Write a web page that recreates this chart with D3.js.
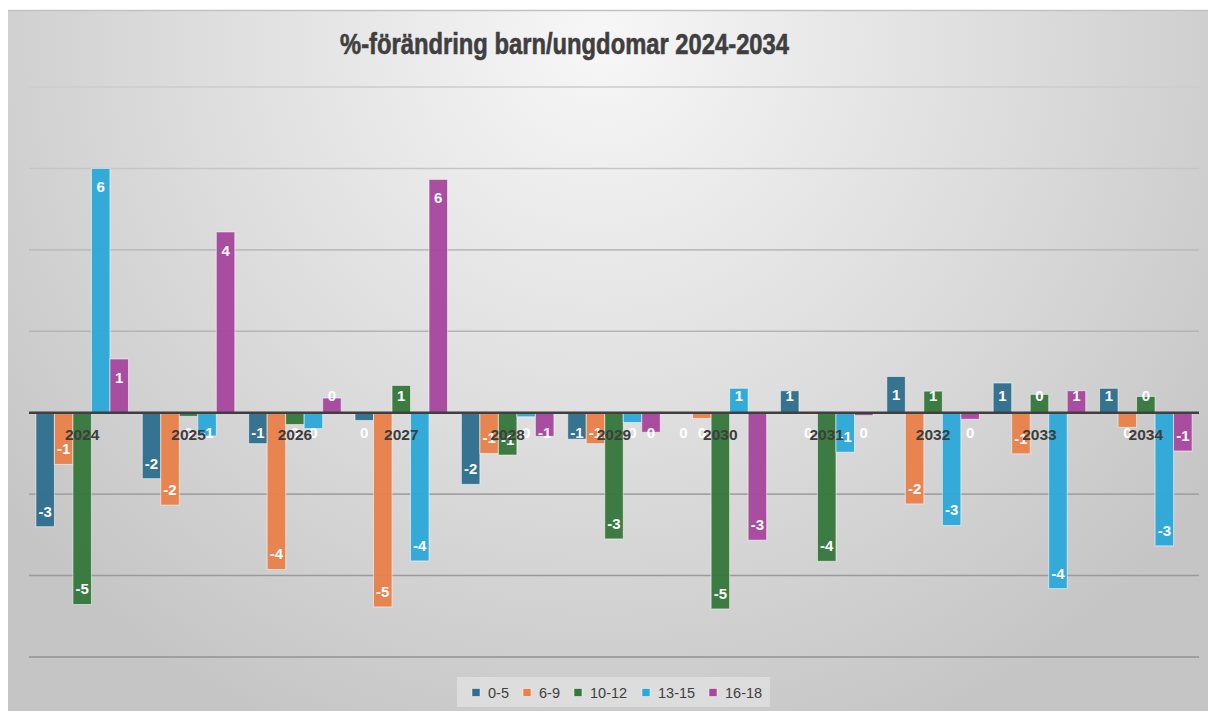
<!DOCTYPE html>
<html>
<head>
<meta charset="utf-8">
<script src="https://cdn.jsdelivr.net/npm/d3@7.9.0/dist/d3.min.js"></script>
<style>
  html, body { margin: 0; padding: 0; background: #fff; }
  svg { display: block; }
  text { font-family: "Liberation Sans", Arial, sans-serif; }
</style>
</head>
<body>
<svg id="chart" width="1208" height="711"></svg>
<script>
// data
const years = ['2024', '2025', '2026', '2027', '2028', '2029', '2030', '2031', '2032', '2033', '2034'];
const seriesNames = ['0-5', '6-9', '10-12', '13-15', '16-18'];
const colors = ['#2f6f8d', '#e8814b', '#37793d', '#2ea8d9', '#a6489d'];

const age0_5   = [-2.80, -1.62, -0.76, -0.19, -1.76, -0.65, -0.02,  0.54,  0.89,  0.73,  0.60];
const age6_9   = [-1.27, -2.27, -3.85, -4.77, -1.00, -0.76, -0.14, -0.04, -2.24, -1.01, -0.36];
const age10_12 = [-4.71, -0.09, -0.29,  0.67, -1.04, -3.10, -4.82, -3.65,  0.53,  0.45,  0.40];
const age13_15 = [ 6.00, -0.57, -0.39, -3.64, -0.10, -0.24,  0.60, -0.97, -2.77, -4.32, -3.27];
const age16_18 = [ 1.32,  4.44,  0.36,  5.73, -0.58, -0.48, -3.13, -0.07, -0.16,  0.54, -0.94];
const seriesValues = [age0_5, age6_9, age10_12, age13_15, age16_18];

const yTicks = [-6, -4, -2, 0, 2, 4, 6, 8];

const svg = d3.select('#chart');
const defs = svg.append('defs');

// background gradient of chart area
let bg = defs.append('radialGradient')
  .attr('id', 'bg')
  .attr('gradientUnits', 'userSpaceOnUse')
  .attr('cx', 600).attr('cy', 40).attr('r', 760);
bg.append('stop').attr('offset', '0%').attr('stop-color', '#f7f7f7');
bg.append('stop').attr('offset', '55%').attr('stop-color', '#dcdcdc');
bg.append('stop').attr('offset', '100%').attr('stop-color', '#c5c5c5');

svg.append('rect')
  .attr('x', 8).attr('y', 10)
  .attr('width', 1200).attr('height', 701)
  .attr('fill', 'url(#bg)');
svg.append('line')
  .attr('x1', 8).attr('x2', 1208).attr('y1', 10.5).attr('y2', 10.5)
  .attr('stroke', '#c2c2c2').attr('stroke-width', 1.5);

// scales
let x = d3.scaleBand().domain(years).range([29, 1199]).padding(0);
let bw = x.bandwidth();
let xInner = d3.scaleBand().domain(seriesNames)
  .range([bw * 0.065, bw * 0.935]).padding(0);
let y = d3.scaleLinear().domain([-6, 8]).range([657, 87]);

// gridlines
let gridColor = d3.scaleLinear().domain([87, 657]).range(['#cdcdcd', '#929292']);
svg.append('g')
  .selectAll('line')
  .data(yTicks.filter((d) => d !== 0))
  .join('line')
  .attr('x1', 29).attr('x2', 1199)
  .attr('y1', (d) => y(d)).attr('y2', (d) => y(d))
  .attr('stroke', (d) => gridColor(y(d)))
  .attr('stroke-width', 1.6);

// bars
let bars = svg.append('g');
seriesValues.forEach((vals, si) => {
  bars.selectAll('rect.s' + si)
    .data(vals)
    .join('rect')
    .attr('class', 's' + si)
    .attr('x', (d, i) => x(years[i]) + xInner(seriesNames[si]))
    .attr('width', xInner.bandwidth())
    .attr('y', (d) => Math.min(y(d), y(0)))
    .attr('height', (d) => Math.abs(y(d) - y(0)))
    .attr('fill', colors[si])
    .attr('fill-opacity', 0.97)
    .attr('stroke', 'rgba(255,255,255,0.55)')
    .attr('stroke-width', 1);
});

// zero axis line
svg.append('line')
  .attr('x1', 29).attr('x2', 1199)
  .attr('y1', y(0)).attr('y2', y(0))
  .attr('stroke', '#3f3f3f').attr('stroke-width', 2.5);

// data labels (inside end, pushed out when the bar is too short)
function fmt(v) {
  let r = Math.round(v);
  return r === 0 ? '0' : String(r);
}
let labels = svg.append('g');
seriesValues.forEach((vals, si) => {
  labels.selectAll('text.l' + si)
    .data(vals)
    .join('text')
    .attr('class', 'l' + si)
    .attr('x', (d, i) => x(years[i]) + xInner(seriesNames[si]) + xInner.bandwidth() / 2)
    .attr('y', (d) => {
      let c = d >= 0
        ? Math.min(y(d) + 18.5, y(0) - 17)
        : Math.max(y(d) - 15.5, y(0) + 19.5);
      return c + 5.4;
    })
    .attr('text-anchor', 'middle')
    .attr('font-size', 15)
    .attr('font-weight', 'bold')
    .attr('fill', '#ffffff')
    .text((d) => fmt(d));
});

// category labels
svg.append('g')
  .selectAll('text')
  .data(years)
  .join('text')
  .attr('x', (d) => x(d) + bw / 2)
  .attr('y', 439.5)
  .attr('text-anchor', 'middle')
  .attr('font-size', 15.5)
  .attr('font-weight', 'bold')
  .attr('fill', '#3d3d3d')
  .text((d) => d);

// title
svg.append('text')
  .attr('x', 340).attr('y', 54)
  .attr('font-size', 29)
  .attr('font-weight', 'bold')
  .attr('fill', '#3f3f3f')
  .attr('stroke', '#3f3f3f')
  .attr('stroke-width', 0.6)
  .attr('textLength', 449)
  .attr('lengthAdjust', 'spacingAndGlyphs')
  .style('font-family', '"Liberation Sans Narrow", "Liberation Sans", Arial, sans-serif')
  .text('%-förändring barn/ungdomar 2024-2034');

// legend
svg.append('rect')
  .attr('x', 457).attr('y', 677)
  .attr('width', 313).attr('height', 30)
  .attr('fill', 'rgba(235,235,235,0.55)');
let legendX = [472, 523, 574, 642, 709];
let legend = svg.append('g')
  .selectAll('g')
  .data(seriesNames)
  .join('g')
  .attr('transform', (d, i) => `translate(${legendX[i]},692.5)`);
legend.append('rect')
  .attr('x', 0).attr('y', -4)
  .attr('width', 8).attr('height', 8)
  .attr('fill', (d, i) => colors[i])
  .attr('stroke', 'rgba(255,255,255,0.6)')
  .attr('stroke-width', 0.8);
legend.append('text')
  .attr('x', 16).attr('y', 5)
  .attr('font-size', 14.5)
  .attr('fill', '#404040')
  .text((d) => d);
</script>
</body>
</html>
